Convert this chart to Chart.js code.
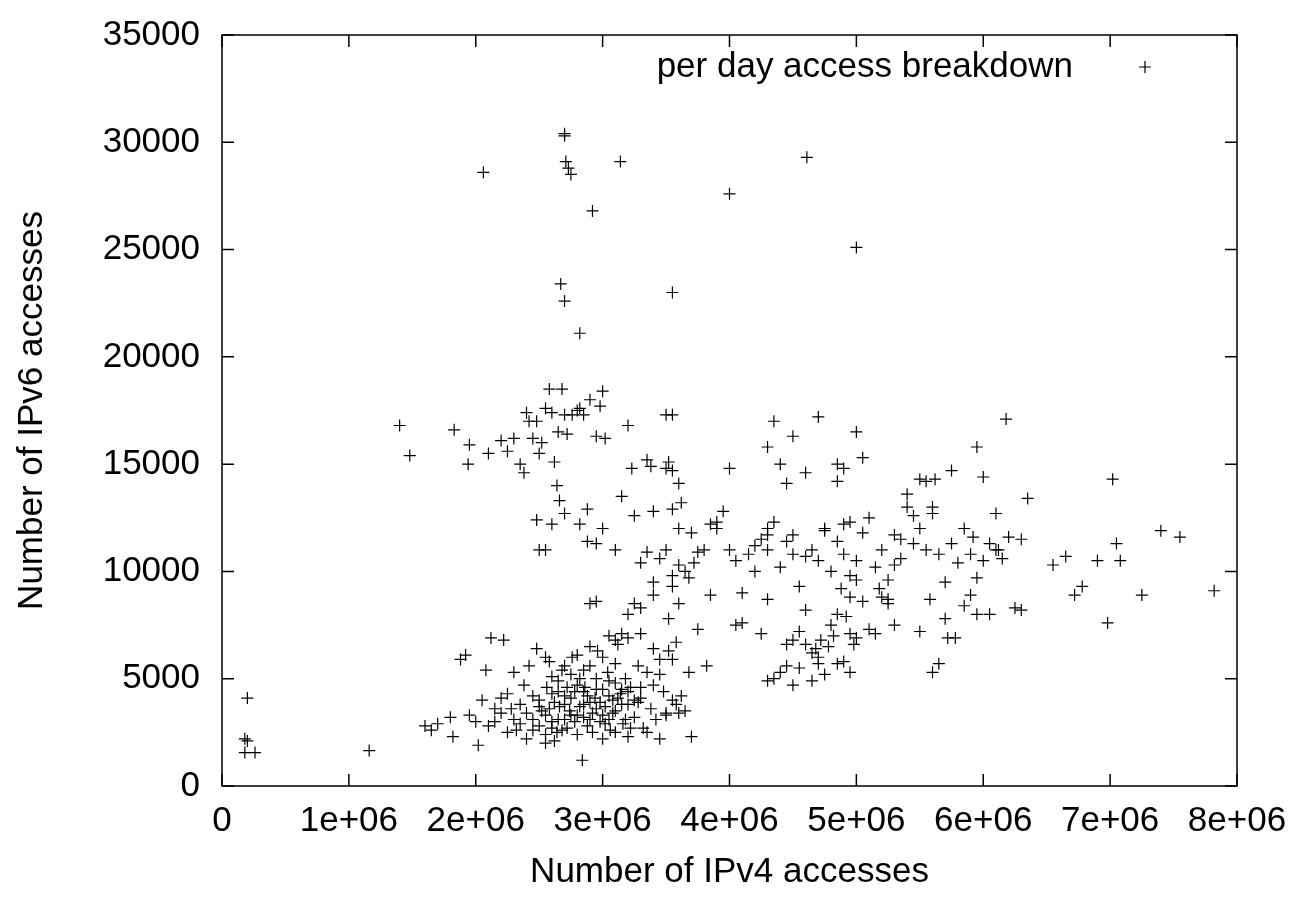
<!DOCTYPE html>
<html><head><meta charset="utf-8">
<script src="https://cdn.jsdelivr.net/npm/chart.js@4/dist/chart.umd.min.js"></script>
<style>html,body{margin:0;padding:0;background:#fff}#w{width:1299px;height:897px}</style>
</head><body><div id="w"><canvas id="c"></canvas></div>
<script>
const seriesLabel = "per day access breakdown";
const xTicks = [0,1e6,2e6,3e6,4e6,5e6,6e6,7e6,8e6];
const xTickLabels = ["0","1e+06","2e+06","3e+06","4e+06","5e+06","6e+06","7e+06","8e+06"];
const yTicks = [0,5000,10000,15000,20000,25000,30000,35000];
const yTickLabels = ["0","5000","10000","15000","20000","25000","30000","35000"];
// points: [IPv4 accesses in millions, IPv6 accesses]
const outliers = [[0.2,4100],[0.18,2200],[0.2,2100],[0.18,1560],[0.26,1560],[1.16,1650],[1.4,16800],[1.48,15400],
[2.06,28600],[2.7,30400],[2.7,30300],[2.71,29100],[2.73,28800],[2.75,28500],[2.92,26800],[3.14,29100],[2.67,23400],[2.7,22600],[2.82,21100],[3.55,23000],[4.0,27600],[4.61,29300],[5.0,25100],[1.83,16600],[1.95,15900],[1.94,15000]];
const highCluster = [[2.25,15600],[2.3,16200],[2.35,15000],[2.38,14600],[2.4,17400],[2.42,17000],[2.45,16200],[2.48,17000],[2.52,16000],[2.55,17600],[2.6,17400],[2.58,18500],[2.68,18500],[2.62,15100],[2.65,16500],[2.7,17300],[2.72,16400],[2.76,17300],[2.8,17500],[2.82,17600],[2.85,17300],[2.9,18000],[2.95,16300],[3.0,18400],[2.98,17700],[3.02,16200],[3.2,16800],[3.35,15200],[3.38,14900],[3.5,17300],[3.55,17300],[3.52,15100],[3.55,14700],[2.2,16100],[2.1,15500],[2.5,15500],[2.64,14000],[2.66,13300],[2.7,12700],[2.6,12200],[2.55,11000],[2.5,11000],[2.48,12400],[2.82,12200],[2.88,12900],[2.88,11400],[2.95,11300],[3.0,12000],[3.1,11000],[3.15,13500],[3.25,12600],[3.23,14800],[3.4,12800],[3.5,14800],[3.55,12900],[3.6,14100],[3.6,12000],[3.62,13200]];
const midBand = [[3.3,10400],[3.35,10900],[3.4,9500],[3.45,10600],[3.5,11000],[3.55,9800],[3.6,10300],[3.65,10000],[3.68,9700],[3.7,11800],[3.72,10400],[3.8,11000],[3.85,12200],[3.9,12300],[3.95,12800],[4.0,11000],[4.05,10500],[4.1,9000],[4.15,10800],[4.2,10000],[4.25,11500],[4.3,11000],[4.35,12300],[4.4,10200],[4.45,11400],[4.5,10800],[4.55,9300],[4.6,10700],[4.65,11000],[4.7,10500],[4.75,11900],[4.8,10000],[4.85,11400],[4.9,10800],[4.95,9800],[5.0,10500],[5.05,11800],[5.1,12500],[5.15,10200],[5.2,11000],[5.25,9600],[5.3,11700],[5.35,10600],[5.4,13000],[5.45,11300],[5.5,12000],[5.55,11000],[5.6,12700],[5.65,10800],[5.7,9500],[5.75,11300],[5.8,10400],[5.85,12000],[5.9,10800],[5.95,9700],[6.0,10500],[6.05,11300],[6.1,11000],[6.15,10600],[6.2,11600],[6.3,11500],[6.35,13400],[6.55,10300],[6.65,10700],[6.72,8900],[6.78,9300],[6.9,10500],[6.98,7600],[7.02,14300],[7.05,11300],[7.08,10500],[7.25,8900],[7.4,11900],[7.55,11600],[7.82,9100],[6.25,8300],[6.3,8200],[5.9,8900],[5.95,8000],[6.05,8000],[5.78,6900],[5.72,6900],[5.58,8700],[5.6,5300],[5.65,5700],[5.5,7200],[5.3,7500],[5.25,8500],[5.2,8800],[5.05,8600],[5.0,6900],[4.95,7100],[4.9,5800],[4.85,5700],[4.95,5300],[4.75,5200],[4.7,5700],[4.65,6200],[4.6,6600],[4.55,7200],[4.5,4700],[4.45,5600],[4.4,5300],[4.35,5000],[4.3,4900],[4.25,7100],[4.3,8700],[4.6,8200],[4.68,6400],[4.72,6800],[4.8,7500],[4.85,8000],[4.88,9200],[4.92,7900],[4.98,6600],[5.1,7300],[5.15,7100],[5.25,8700],[4.1,7600],[4.05,7500],[3.75,7300],[3.82,5600],[3.7,2300],[3.6,3400],[3.65,3500],[3.62,4200],[3.68,5300],[3.58,6700],[3.55,5900],[3.52,7800],[3.6,8500],[3.55,9300],[3.4,8900],[3.3,8300],[3.25,8500],[3.2,8000],[3.15,7100],[3.1,6800],[3.05,7000],[2.95,8600],[2.9,8500],[4.3,12000],[4.4,15000],[4.45,14100],[4.35,17000],[4.3,15800],[4.5,16300],[4.7,17200],[4.85,15000],[4.6,14600],[4.85,14200],[4.9,14800],[5.0,16500],[5.05,15300],[5.4,13600],[5.5,14300],[5.55,14200],[5.62,14300],[5.75,14700],[5.95,15800],[6.0,14400],[6.18,17100],[6.1,12700],[5.6,13000],[5.35,11500],[5.45,12600],[4.95,12300],[4.75,12000],[4.9,12200],[4.3,11700],[4.2,11200],[4.5,11700],[4.0,14800],[3.9,12000],[3.75,10900],[3.85,8900],[4.45,6600],[4.5,6800],[4.7,6000],[4.78,6500],[4.82,7000],[4.65,4900],[4.55,5500],[4.95,8800],[5.0,9600],[5.18,9200],[5.3,10300],[5.7,7800],[5.85,8400],[5.92,11600],[6.12,11000]];
const lowCluster = [[1.6,2800],[1.65,2600],[1.7,2900],[1.8,3200],[1.82,2300],[1.88,5900],[1.92,6100],[1.95,3300],[2.0,3000],[2.02,1900],[2.05,4000],[2.08,5400],[2.1,2800],[2.12,6900],[2.15,3000],[2.2,3400],[2.22,6800],[2.25,4300],[2.28,3600],[2.3,5300],[2.32,2600],[2.35,3800],[2.38,4700],[2.4,2200],[2.42,5600],[2.45,3100],[2.48,6400],[2.5,4000],[2.52,3500],[2.55,2000],[2.56,4600],[2.58,5800],[2.6,3000],[2.62,3900],[2.64,2500],[2.65,4900],[2.66,3700],[2.68,5400],[2.7,4200],[2.72,2700],[2.74,3500],[2.76,6000],[2.78,4400],[2.8,3300],[2.82,5000],[2.84,1200],[2.85,3800],[2.86,4600],[2.88,2800],[2.9,5600],[2.92,3400],[2.94,4100],[2.96,6300],[2.98,3000],[3.0,4500],[3.02,3700],[3.04,5300],[3.06,2600],[3.08,4000],[3.1,3500],[3.12,6600],[3.14,4300],[3.16,2900],[3.18,5000],[3.2,3800],[3.22,4600],[3.25,3200],[3.28,5600],[3.3,4100],[3.32,2700],[3.35,5300],[3.38,3600],[3.4,4700],[3.42,3100],[3.45,5900],[3.48,4400],[3.5,3400],[3.52,6300],[3.55,4000],[2.55,3300],[2.6,4300],[2.65,3100],[2.7,3800],[2.75,4100],[2.8,4700],[2.85,3200],[2.9,3900],[2.95,4500],[3.0,3300],[3.05,4200],[3.1,4800],[3.15,3800],[3.2,4400],[2.35,2900],[2.4,3400],[2.45,4200],[2.5,2800],[2.58,3600],[2.62,2100],[2.68,2600],[2.72,4600],[2.78,3000],[2.82,3700],[2.88,4200],[2.92,2500],[2.98,3900],[3.02,2900],[3.08,3400],[3.12,4100],[3.18,3100],[3.22,2700],[3.28,3900],[3.3,4600],[2.25,2500],[2.3,3100],[2.2,4100],[2.15,3600],[2.6,5100],[2.7,5600],[2.8,6100],[2.9,6500],[3.0,6000],[3.1,5700],[3.2,6900],[3.3,7100],[3.4,6400],[3.45,5200],[2.55,6000],[2.75,5200],[2.85,5400],[2.95,5000],[3.05,4900],[2.65,4400],[2.75,3300],[2.85,4400],[2.95,3600],[3.05,3100],[3.15,4500],[3.25,4000],[2.45,2600],[2.5,3700],[2.55,2400],[2.6,2700],[2.7,3100],[2.8,2400],[2.9,3100],[3.0,2200],[3.1,2500],[3.2,2300],[3.35,2500],[3.45,2200],[3.5,3300],[3.58,3800]];
const points = [...outliers, ...highCluster, ...midBand, ...lowCluster].map(p => ({x: p[0]*1e6, y: p[1]}));

const FONT = "'Liberation Sans', Arial, sans-serif";
const FS = 35;
const frame = {
  id: 'frame',
  afterDraw(chart) {
    const {ctx, chartArea: a, scales: {x, y}} = chart;
    ctx.save();
    ctx.strokeStyle = '#000'; ctx.lineWidth = 1.5;
    ctx.strokeRect(a.left, a.top, a.right - a.left, a.bottom - a.top);
    ctx.beginPath();
    xTicks.forEach(v => { const px = x.getPixelForValue(v);
      ctx.moveTo(px, a.bottom); ctx.lineTo(px, a.bottom - 12);
      ctx.moveTo(px, a.top); ctx.lineTo(px, a.top + 12); });
    yTicks.forEach(v => { const py = y.getPixelForValue(v);
      ctx.moveTo(a.left, py); ctx.lineTo(a.left + 12, py);
      ctx.moveTo(a.right, py); ctx.lineTo(a.right - 12, py); });
    ctx.stroke();
    ctx.font = FS + 'px ' + FONT; ctx.fillStyle = '#000';
    ctx.textAlign = 'right'; ctx.textBaseline = 'middle';
    const ly = a.top + 32;
    ctx.fillText(chart.data.datasets[0].label, a.right - 164, ly);
    ctx.lineWidth = 1.2; ctx.beginPath();
    const cx = a.right - 92;
    ctx.moveTo(cx - 6, ly); ctx.lineTo(cx + 6, ly);
    ctx.moveTo(cx, ly - 6); ctx.lineTo(cx, ly + 6);
    ctx.stroke();
    ctx.restore();
  }
};

new Chart(document.getElementById('c'), {
  type: 'scatter',
  data: { datasets: [{ label: seriesLabel, data: points, pointStyle: 'cross', pointRadius: 6,
    borderColor: '#000', backgroundColor: '#000', borderWidth: 1.2, pointHoverRadius: 6 }] },
  options: {
    responsive: true, maintainAspectRatio: false, animation: false,
    layout: { padding: { left: 7, top: 9, right: 62, bottom: 0 } },
    plugins: { legend: { display: false }, tooltip: { enabled: false } },
    scales: {
      x: { type: 'linear', min: 0, max: 8e6,
        afterBuildTicks: s => { s.ticks = xTicks.map(v => ({value: v})); },
        afterFit: s => { s.height = 111; },
        grid: { display: false }, border: { display: false },
        ticks: { color: '#000', font: { family: FONT, size: FS }, padding: 6, maxRotation: 0,
          callback: (v) => xTickLabels[xTicks.indexOf(v)] },
        title: { display: true, text: 'Number of IPv4 accesses', color: '#000', font: { family: FONT, size: FS }, padding: { top: 16 } } },
      y: { type: 'linear', min: 0, max: 35000,
        afterBuildTicks: s => { s.ticks = yTicks.map(v => ({value: v})); },
        afterFit: s => { s.width = 215; },
        grid: { display: false }, border: { display: false },
        ticks: { color: '#000', font: { family: FONT, size: FS }, padding: 14,
          callback: (v) => yTickLabels[yTicks.indexOf(v)] },
        title: { display: true, text: 'Number of IPv6 accesses', color: '#000', font: { family: FONT, size: FS }, padding: { bottom: 4 } } }
    }
  },
  plugins: [frame]
});
</script></body></html>
